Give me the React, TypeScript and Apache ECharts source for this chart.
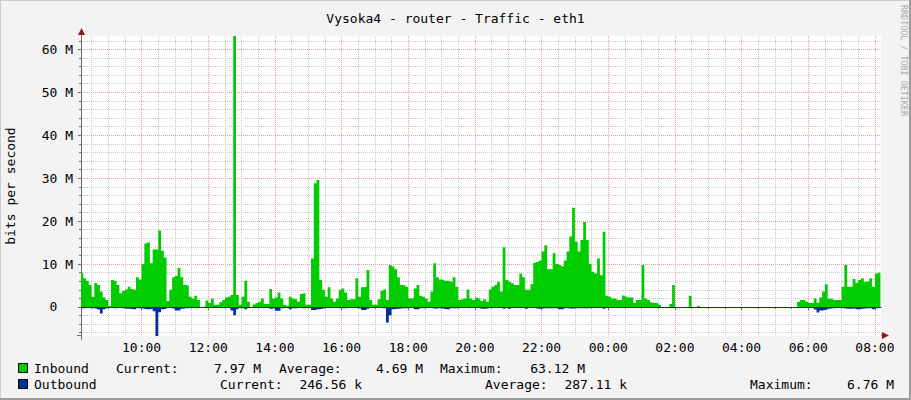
import React, { useEffect, useRef } from 'react';
import * as echarts from 'echarts';

const TITLE = 'Vysoka4 - router - Traffic - eth1';
const Y_NAME = 'bits per second';
const WATERMARK = 'RRDTOOL / TOBI OETIKER';

// time in minutes since 00:00 of the first day; one value every 5 minutes from 08:10
const T0 = 490;
const STEP = 5;
const X_MIN = 491;
const X_MAX = 1931;
const Y_MIN = -6.76;
const Y_MAX = 63.12;
const Y_MAJOR = [0, 10, 20, 30, 40, 50, 60];
const X_MAJOR = [600, 720, 840, 960, 1080, 1200, 1320, 1440, 1560, 1680, 1800, 1920];

// Inbound, M bits/s
const inbound: (number | null)[] = [
  8.0, 6.7, 6.1, 5.1, 2.4, 5.6, 5.1, 3.6, 2.2, 1.6, 0.2,
  6.3, 6.1, 5.1, 3.2, 3.8, 4.1, 4.7, 4.2, 4.0, 6.9, 6.4,
  10.0, 14.8, 15.0, 10.2, 13.4, 13.4, 17.8,
  13.1, 11.5, 1.4, 4.0, 6.9, 7.2, 9.1, 6.9, 5.1, 5.0, 2.4, 2.0, 2.6, 1.6, 0.0, 0.1, 1.5, 0.9, 2.0, 0.5, 0.5, 1.1, 1.6, 2.2, 2.4, 2.8,
  63.12,
  2.8, 0.5, 2.4, 6.1,
  1.2, 0.0, 0.6, 0.9, 1.2, 2.0, 0.7, 0.7, 4.2, 2.0, 2.2, 3.4,
  2.0, 0.5, 0.3, 2.4, 2.0, 1.8, 1.2, 3.0, 3.2, 0.5, 0.5,
  11.3, 28.8, 29.6,
  6.3, 4.0, 2.4, 4.6, 2.0, 1.2, 2.0, 4.0, 4.3, 3.4, 1.6, 1.8, 1.8,
  6.7, 2.4, 4.6, 4.7, 8.6,
  1.6, 0.5, 0.5, 1.8, 3.8, 4.1, 1.6,
  9.8, 9.4, 8.8, 6.9, 5.1, 5.0, 4.7, 2.0, 2.0, 4.3, 5.1, 2.6, 2.4, 2.0, 1.2, 3.6, 10.2, 6.9, 6.4, 6.3, 6.1, 6.1, 5.9, 6.9, 4.7, 1.6, 1.8, 2.0, 4.1, 2.0, 1.6, 2.2, 2.0,
  1.4, 1.8, 1.2, 4.1, 4.7, 5.1, 5.9, 3.6,
  13.9,
  6.3, 5.9, 5.5, 5.1, 5.1, 7.8, 6.9, 4.0, 4.0, 5.3, 10.3, 10.5, 10.8, 12.9, 14.4, 8.8, 8.8, 12.5, 10.0, 9.8, 9.5, 10.8, 12.9, 16.4,
  23.1,
  15.2, 12.9, 15.6, 19.8, 15.6, 10.0, 8.2, 7.8, 11.3, 7.4,
  17.5,
  2.6, 2.4, 2.0, 2.0, 1.6, 1.6, 2.7, 2.4, 2.2, 2.2, 0.9, 1.6, 1.6,
  9.8,
  2.0, 1.6, 1.1, 0.9, 0.9, 0.5,
  null, null, null,
  0.7, 5.1,
  null, null, null, null, null,
  2.6,
  null, null,
  0.2,
  null, null, null, null, null, null, null, null, null, null, null, null, null, null, null, null, null, null,
  null, null, null, null, null, null, null, null, null, null, null, null, null, null, null, null, null,
  1.2, 1.6, 1.6, 1.2, 0.9, 0.9,
  2.0, 1.0, 2.2, 3.6, 5.3,
  1.9, 1.9, 1.6, 1.6, 1.6, 4.7,
  9.8,
  4.7, 4.7, 6.5, 5.6, 6.3, 6.7, 5.9, 6.0, 6.7, 4.7, 7.8, 8.0,
];

// Outbound, M bits/s (drawn below zero)
const outbound: (number | null)[] = [
  -0.3, -0.3, -0.2, -0.3, -0.3, -0.4, -0.6, -1.5, -0.5, -0.3, -0.2,
  -0.3, -0.3, -0.2, -0.3, -0.3, -0.4, -0.4, -0.5, -0.5, -0.3, -0.3,
  -0.4, -0.5, -0.5, -0.4, -1.0, -6.76, -1.2,
  -0.5, -0.4, -0.2, -0.3, -0.4, -0.8, -0.8, -0.4, -0.3, -0.3, -0.2, -0.2, -0.3, -0.2, -0.1, -0.1, -0.2, -0.2, -0.3, -0.1, -0.1, -0.2, -0.2, -0.2, -0.3, -0.8,
  -1.9,
  -0.5, -0.2, -0.3, -0.5,
  -0.2, -0.1, -0.1, -0.2, -0.2, -0.3, -0.2, -0.2, -0.4, -0.3, -0.9, -0.9,
  -0.3, -0.2, -0.2, -0.5, -0.3, -0.3, -0.2, -0.3, -0.3, -0.2, -0.2,
  -0.7, -0.7, -0.5,
  -0.4, -0.3, -0.2, -0.3, -0.2, -0.2, -0.3, -0.3, -0.3, -0.3, -0.2, -0.2, -0.2,
  -0.3, -0.3, -0.7, -0.7, -0.4,
  -0.2, -0.1, -0.1, -0.2, -0.3, -0.3, -3.6,
  -1.9, -0.5, -0.4, -0.4, -0.3, -0.3, -0.3, -0.2, -0.2, -0.5, -0.5, -0.3, -0.3, -0.2, -0.2, -0.3, -0.4, -0.3, -0.3, -0.4, -0.5, -0.5, -0.3, -0.3, -0.3, -0.2, -0.2, -0.2, -0.3, -0.2, -0.2, -0.2, -0.2,
  -0.4, -0.4, -0.3, -0.2, -0.2, -0.2, -0.2, -0.2,
  -0.4,
  -0.2, -0.4, -0.2, -0.2, -0.2, -0.2, -0.2, -0.4, -0.2, -0.2, -0.3, -0.4, -0.4, -0.3, -0.3, -0.3, -0.3, -0.3, -0.3, -0.5, -0.5, -0.3, -0.3, -0.4,
  -0.3,
  -0.3, -0.3, -0.3, -0.3, -0.3, -0.2, -0.2, -0.2, -0.2, -0.2,
  -0.4,
  -0.1, -0.1, -0.1, -0.1, -0.1, -0.1, -0.1, -0.1, -0.1, -0.1, -0.1, -0.1, -0.1,
  -0.1,
  -0.1, -0.1, -0.1, -0.1, -0.1, -0.1,
  null, null, null,
  -0.1, -0.1,
  null, null, null, null, null,
  -0.1,
  null, null,
  -0.1,
  null, null, null, null, null, null, null, null, null, null, null, null, null, null, null, null, null, null,
  null, null, null, null, null, null, null, null, null, null, null, null, null, null, null, null, null,
  -0.1, -0.1, -0.1, -0.1, -0.1, -0.2,
  -0.6, -1.3, -0.8, -0.7, -0.6,
  -0.4, -0.3, -0.3, -0.2, -0.2, -0.3,
  -0.4,
  -0.4, -0.4, -0.3, -0.5, -0.6, -0.4, -0.3, -0.3, -0.3, -0.5, -0.3, -0.25,
];

const SERIES_NAMES = ['Inbound', 'Outbound'];
const SERIES_COLORS = ['#00CC00', '#00309B'];
const STAT_LABELS = ['Current:', 'Average:', 'Maximum:'];
const INBOUND_STATS = ['7.97 M', '4.69 M', '63.12 M'];
const OUTBOUND_STATS = ['246.56 k', '287.11 k', '6.76 M'];

const MONO = '"DejaVu Sans Mono", monospace';
const MAJOR_GRID = '#EE9A9A';
const MINOR_GRID = '#C8C8C8';
const AXIS_COLOR = '#6E6E6E';
const ARROW_COLOR = '#8E1B1B';

function toSteps(vals: (number | null)[]) {
  const out: (number | null)[][] = [];
  vals.forEach((v, i) => {
    const x = T0 + STEP * i;
    if (v == null) {
      out.push([x, null]);
      return;
    }
    out.push([x, v]);
    if (i === vals.length - 1 || vals[i + 1] == null) out.push([x + STEP, v]);
  });
  return out;
}

function fmtTime(m: number) {
  const t = ((m % 1440) + 1440) % 1440;
  const h = Math.floor(t / 60);
  const mm = t % 60;
  return `${String(h).padStart(2, '0')}:${String(mm).padStart(2, '0')}`;
}

const minorY: number[] = [];
for (let v = -6; v <= 62; v += 2) if (v % 10 !== 0) minorY.push(v);
const minorX: number[] = [];
for (let m = 510; m <= 1920; m += 30) if (m % 120 !== 0) minorX.push(m);

function txt(text: string, x: number, y: number, align = 'left') {
  return {
    type: 'text',
    x,
    y,
    silent: true,
    style: { text, fill: '#000', font: `13px ${MONO}`, align, verticalAlign: 'middle' },
  };
}

export default function App() {
  const ref = useRef<HTMLDivElement>(null);
  useEffect(() => {
    document.body.style.margin = '0';
    if (!ref.current) return;
    const chart = echarts.init(ref.current, undefined, { renderer: 'svg' });

    const rowY = [368, 384];
    const statPos = [
      // [label x, value right edge]
      [[116, 261], [279, 423], [440, 585]],
      [[220, 362], [485, 627], [750, 894]],
    ];
    const stats = [INBOUND_STATS, OUTBOUND_STATS];
    const legendGraphics: any[] = [];
    SERIES_NAMES.forEach((name, r) => {
      legendGraphics.push({
        type: 'rect',
        silent: true,
        shape: { x: 18.5, y: rowY[r] - 4.5, width: 9, height: 9 },
        style: { fill: SERIES_COLORS[r], stroke: '#000', lineWidth: 1 },
      });
      legendGraphics.push(txt(name, 34, rowY[r]));
      STAT_LABELS.forEach((lab, k) => {
        legendGraphics.push(txt(lab, statPos[r][k][0], rowY[r]));
        legendGraphics.push(txt(stats[r][k], statPos[r][k][1], rowY[r], 'right'));
      });
    });

    const option: any = {
      animation: false,
      backgroundColor: '#F3F3F3',
      title: {
        text: TITLE,
        left: 'center',
        top: 7,
        textStyle: { fontFamily: MONO, fontSize: 13, fontWeight: 'normal', color: '#000' },
      },
      grid: {
        left: 81,
        top: 36,
        width: 800,
        height: 300,
        show: true,
        backgroundColor: '#fff',
        borderWidth: 0,
        containLabel: false,
        outerBoundsMode: 'none',
      },
      xAxis: [
        {
          type: 'value',
          min: X_MIN,
          max: X_MAX,
          position: 'bottom',
          axisLine: { show: true, lineStyle: { color: AXIS_COLOR } },
          axisTick: { show: true, customValues: X_MAJOR, length: 3, lineStyle: { color: AXIS_COLOR } },
          axisLabel: { customValues: X_MAJOR, formatter: fmtTime, fontFamily: MONO, fontSize: 13, color: '#000', margin: 5 },
          splitLine: { show: true, lineStyle: { color: MAJOR_GRID, type: [1, 1], width: 1 } },
        },
        {
          type: 'value',
          min: X_MIN,
          max: X_MAX,
          position: 'bottom',
          axisLine: { show: false },
          axisTick: { show: true, customValues: minorX, length: 2, lineStyle: { color: AXIS_COLOR } },
          axisLabel: { show: false },
          splitLine: { show: true, lineStyle: { color: MINOR_GRID, type: [1, 1], width: 1 } },
        },
      ],
      yAxis: [
        {
          type: 'value',
          min: Y_MIN,
          max: Y_MAX,
          position: 'left',
          name: Y_NAME,
          nameLocation: 'middle',
          nameGap: 64,
          nameRotate: 90,
          nameTextStyle: { fontFamily: MONO, fontSize: 13, color: '#000' },
          axisLine: { show: true, lineStyle: { color: AXIS_COLOR } },
          axisTick: { show: true, customValues: Y_MAJOR, length: 3, lineStyle: { color: AXIS_COLOR } },
          axisLabel: {
            customValues: Y_MAJOR,
            formatter: (v: number) => (v === 0 ? '0\u00a0\u00a0' : `${v} M`),
            fontFamily: MONO,
            fontSize: 13,
            color: '#000',
            margin: 8,
          },
          splitLine: { show: true, lineStyle: { color: MAJOR_GRID, type: [1, 1], width: 1 } },
        },
        {
          type: 'value',
          min: Y_MIN,
          max: Y_MAX,
          position: 'left',
          axisLine: { show: false },
          axisTick: { show: true, customValues: minorY, length: 2, lineStyle: { color: AXIS_COLOR } },
          axisLabel: { show: false },
          splitLine: { show: true, lineStyle: { color: MINOR_GRID, type: [1, 1], width: 1 } },
        },
      ],
      series: [
        {
          type: 'line',
          name: SERIES_NAMES[0],
          xAxisIndex: 0,
          yAxisIndex: 0,
          data: toSteps(inbound),
          step: 'end',
          symbol: 'none',
          showSymbol: false,
          connectNulls: false,
          lineStyle: { width: 0 },
          itemStyle: { color: SERIES_COLORS[0] },
          areaStyle: { color: SERIES_COLORS[0], opacity: 1 },
          z: 3,
        },
        {
          type: 'line',
          name: SERIES_NAMES[1],
          xAxisIndex: 0,
          yAxisIndex: 0,
          data: toSteps(outbound),
          step: 'end',
          symbol: 'none',
          showSymbol: false,
          connectNulls: false,
          lineStyle: { width: 0 },
          itemStyle: { color: SERIES_COLORS[1] },
          areaStyle: { color: SERIES_COLORS[1], opacity: 1 },
          z: 3,
          markLine: {
            silent: true,
            symbol: 'none',
            label: { show: false },
            lineStyle: { color: '#0B2C8A', width: 1, type: 'solid' },
            data: [{ yAxis: 0 }],
          },
        },
      ],
      graphic: [
        // frame
        { type: 'line', silent: true, shape: { x1: 0, y1: 0.5, x2: 911, y2: 0.5 }, style: { stroke: '#CBCBCB', lineWidth: 1 } },
        { type: 'line', silent: true, shape: { x1: 0.5, y1: 0, x2: 0.5, y2: 400 }, style: { stroke: '#CBCBCB', lineWidth: 1 } },
        { type: 'line', silent: true, shape: { x1: 910, y1: 0, x2: 910, y2: 400 }, style: { stroke: '#9A9A9A', lineWidth: 2 } },
        { type: 'line', silent: true, shape: { x1: 0, y1: 399, x2: 911, y2: 399 }, style: { stroke: '#9A9A9A', lineWidth: 2 } },
        // axis extensions and arrows
        { type: 'line', silent: true, shape: { x1: 81.5, y1: 31, x2: 81.5, y2: 36 }, style: { stroke: AXIS_COLOR, lineWidth: 1 } },
        { type: 'line', silent: true, shape: { x1: 81.5, y1: 336, x2: 81.5, y2: 340 }, style: { stroke: AXIS_COLOR, lineWidth: 1 } },
        { type: 'line', silent: true, shape: { x1: 77, y1: 335.5, x2: 81, y2: 335.5 }, style: { stroke: AXIS_COLOR, lineWidth: 1 } },
        { type: 'line', silent: true, shape: { x1: 881, y1: 335.5, x2: 884, y2: 335.5 }, style: { stroke: AXIS_COLOR, lineWidth: 1 } },
        { type: 'polygon', silent: true, shape: { points: [[78, 35], [85, 35], [81.5, 28]] }, style: { fill: ARROW_COLOR } },
        { type: 'polygon', silent: true, shape: { points: [[882, 332], [882, 339], [889, 335.5]] }, style: { fill: ARROW_COLOR } },
        {
          type: 'text',
          silent: true,
          x: 904,
          y: 5,
          rotation: -Math.PI / 2,
          style: { text: WATERMARK, fill: '#AAAAAA', font: `8.4px ${MONO}`, align: 'left', verticalAlign: 'middle' },
        },
        ...legendGraphics,
      ],
    };
    chart.setOption(option);
    return () => chart.dispose();
  }, []);
  return <div ref={ref} style={{ position: 'absolute', left: 0, top: 0, width: 911, height: 400 }} />;
}
